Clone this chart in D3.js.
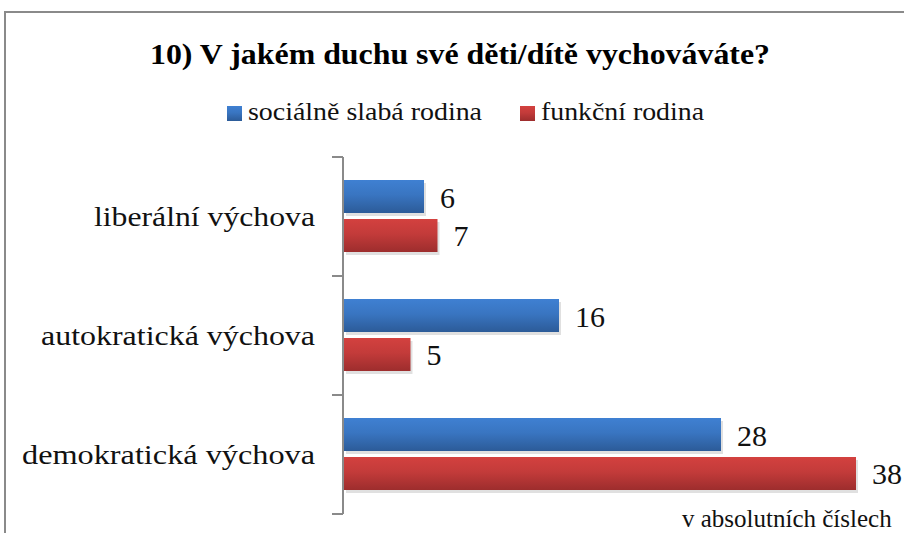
<!DOCTYPE html>
<html>
<head>
<meta charset="utf-8">
<script src="https://cdn.jsdelivr.net/npm/d3@7"></script>
</head>
<body style="margin:0">
<svg id="chart" width="904" height="533"></svg>
<script>
const categories = ["liberální výchova", "autokratická výchova", "demokratická výchova"];
const seriesNames = ["sociálně slabá rodina", "funkční rodina"];
const socialneSlaba = [6, 16, 28];
const funkcni = [7, 5, 38];

const title = "10) V jakém duchu své děti/dítě vychováváte?";
const unitNote = "v absolutních číslech";

const font = "Liberation Serif";
const colors = [["#3f80d2", "#2c5b98"], ["#d3413f", "#9d2d2d"]];

const svg = d3.select("#chart");
const defs = svg.append("defs");

colors.forEach((c, i) => {
  const g = defs.append("linearGradient")
    .attr("id", "grad" + i)
    .attr("x1", 0).attr("y1", 0).attr("x2", 0).attr("y2", 1);
  g.append("stop").attr("offset", "0%").attr("stop-color", c[0]);
  g.append("stop").attr("offset", "45%").attr("stop-color", d3.interpolateRgb(c[0], c[1])(0.3));
  g.append("stop").attr("offset", "100%").attr("stop-color", c[1]);
});

// outer frame
svg.append("rect")
  .attr("x", 5).attr("y", 12)
  .attr("width", 940).attr("height", 560)
  .attr("fill", "none")
  .attr("stroke", "#8a8a8a")
  .attr("stroke-width", 2);

// title
svg.append("text")
  .attr("x", 150).attr("y", 64)
  .attr("font-family", font)
  .attr("font-weight", "bold")
  .attr("font-size", 30)
  .attr("textLength", 620)
  .attr("lengthAdjust", "spacingAndGlyphs")
  .text(title);

// legend
const legendItems = [
  { name: seriesNames[0], x: 227, textLen: 234 },
  { name: seriesNames[1], x: 520, textLen: 163 }
];
const legend = svg.append("g");
legendItems.forEach((d, i) => {
  legend.append("rect")
    .attr("x", d.x).attr("y", 106)
    .attr("width", 15).attr("height", 15)
    .attr("fill", "url(#grad" + i + ")");
  legend.append("text")
    .attr("x", d.x + 21).attr("y", 120)
    .attr("font-family", font)
    .attr("font-size", 26)
    .attr("textLength", d.textLen)
    .attr("lengthAdjust", "spacingAndGlyphs")
    .attr("fill", "#111")
    .text(d.name);
});

// scales
const x = d3.scaleLinear().domain([0, 40]).range([343, 883]);
const y = d3.scaleBand().domain(categories).range([157, 514]);
const ySub = d3.scaleBand().domain(seriesNames).range([23, 95]).paddingInner(0.1538);

// axis line with ticks at band boundaries
const axis = svg.append("g").attr("stroke", "#8a8a8a").attr("stroke-width", 2);
axis.append("line")
  .attr("x1", x(0)).attr("x2", x(0))
  .attr("y1", y.range()[0]).attr("y2", y.range()[1]);
const bounds = categories.map(c => y(c)).concat([y.range()[1]]);
axis.selectAll(".tick").data(bounds).join("line")
  .attr("class", "tick")
  .attr("x1", x(0) - 11).attr("x2", x(0))
  .attr("y1", d => d).attr("y2", d => d);

// category labels
const labelLens = [221, 274, 293];
svg.selectAll(".cat").data(categories).join("text")
  .attr("class", "cat")
  .attr("x", 315)
  .attr("y", d => y(d) + y.bandwidth() / 2 + 9)
  .attr("text-anchor", "end")
  .attr("font-family", font)
  .attr("font-size", 28)
  .attr("textLength", (d, i) => labelLens[i])
  .attr("lengthAdjust", "spacingAndGlyphs")
  .attr("fill", "#111")
  .text(d => d);

// bars
const rows = [];
categories.forEach((c, i) => {
  rows.push({ cat: c, series: seriesNames[0], si: 0, value: socialneSlaba[i] });
  rows.push({ cat: c, series: seriesNames[1], si: 1, value: funkcni[i] });
});

const barG = svg.append("g");
// soft shadow under each bar
barG.selectAll(".shadow").data(rows).join("rect")
  .attr("class", "shadow")
  .attr("x", x(0) + 3)
  .attr("y", d => y(d.cat) + ySub(d.series) + 3)
  .attr("width", d => x(d.value) - x(0) - 1)
  .attr("height", ySub.bandwidth())
  .attr("fill", "#000")
  .attr("opacity", 0.12);
barG.selectAll(".bar").data(rows).join("rect")
  .attr("class", "bar")
  .attr("x", x(0) + 1)
  .attr("y", d => y(d.cat) + ySub(d.series))
  .attr("width", d => x(d.value) - x(0) - 1)
  .attr("height", ySub.bandwidth())
  .attr("fill", d => "url(#grad" + d.si + ")");

// value labels
svg.append("g").selectAll("text").data(rows).join("text")
  .attr("x", d => x(d.value) + 16)
  .attr("y", d => y(d.cat) + ySub(d.series) + ySub.bandwidth() / 2 + 11)
  .attr("font-family", font)
  .attr("font-size", 30)
  .attr("fill", "#111")
  .text(d => d.value);

// unit note
svg.append("text")
  .attr("x", 682).attr("y", 527)
  .attr("font-family", font)
  .attr("font-size", 25)
  .attr("fill", "#111")
  .text(unitNote);
</script>
</body>
</html>
